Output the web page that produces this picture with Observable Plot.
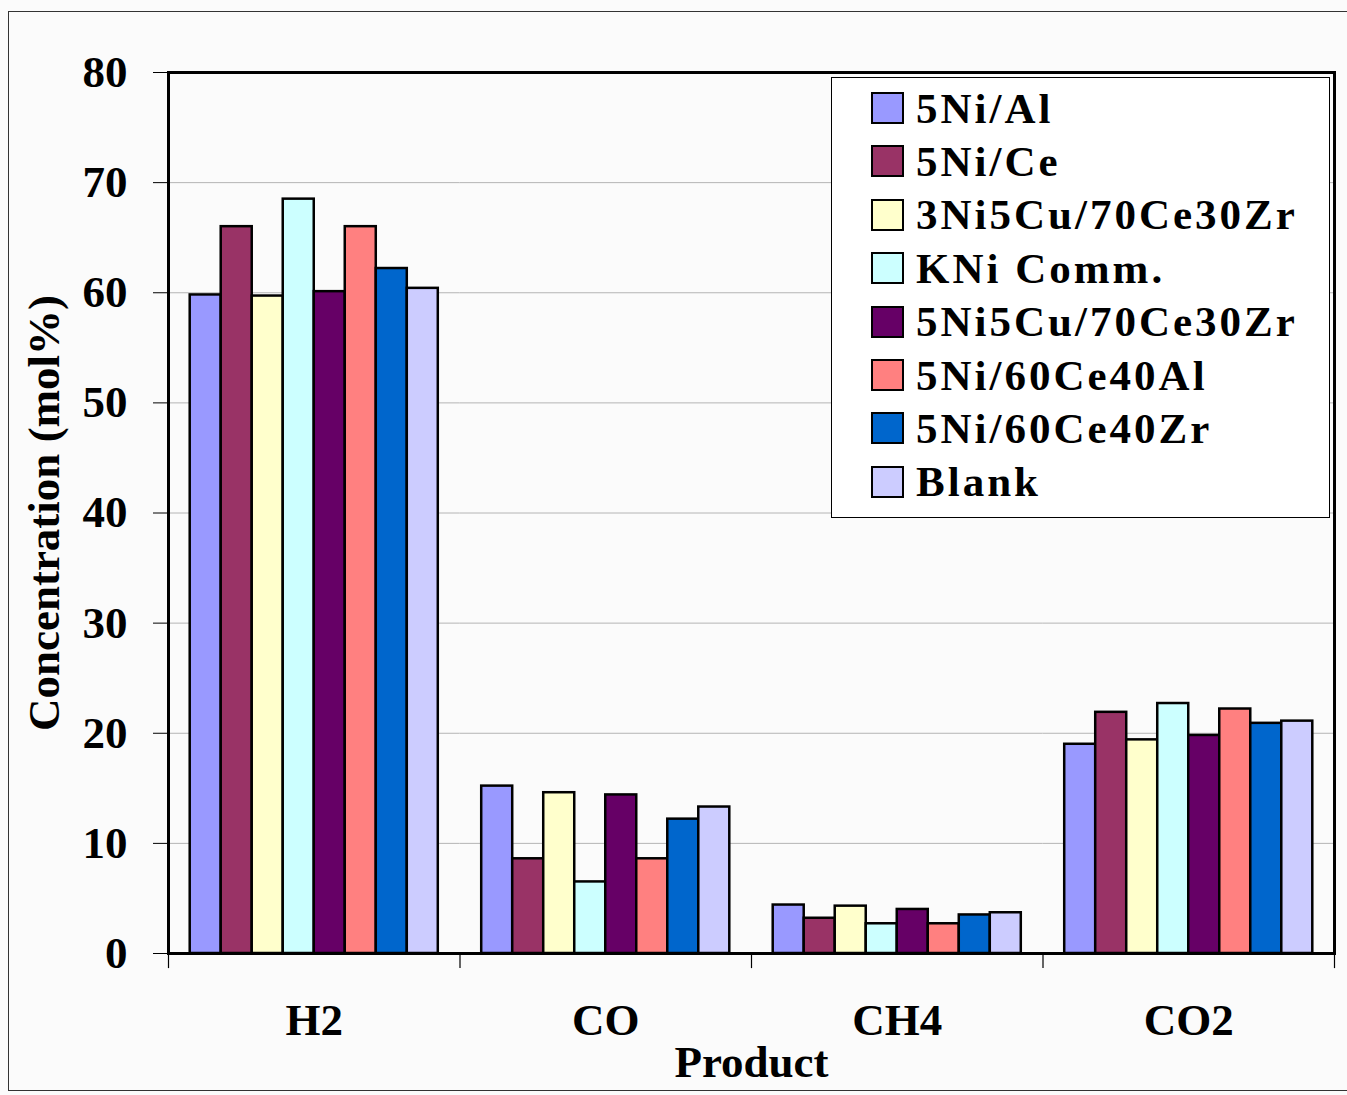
<!DOCTYPE html>
<html>
<head>
<meta charset="utf-8">
<script src="https://cdn.jsdelivr.net/npm/d3@7"></script>
<script src="https://cdn.jsdelivr.net/npm/@observablehq/plot@0.6"></script>
<style>
  html, body { margin: 0; padding: 0; background: #fbfbfb; }
  #wrap { position: relative; width: 1347px; height: 1095px; overflow: hidden; }
  #outer { position: absolute; left: 8px; top: 11px; width: 1400px; height: 1080px; border: 1.5px solid #333; box-sizing: border-box; }
  #chart { position: absolute; left: 0; top: 0; }
  #legend {
    position: absolute; left: 831px; top: 77px; width: 499px; height: 441px;
    background: #fff; border: 1.5px solid #000; box-sizing: border-box;
    font-family: "Liberation Serif", "Times New Roman", serif; font-weight: bold;
    font-size: 43px; letter-spacing: 3px; color: #000;
  }
  .item { position: absolute; left: 39px; height: 32px; display: flex; align-items: center; white-space: nowrap; }
  .sw { width: 29px; height: 28px; border: 2px solid #000; margin-right: 12px; flex: none; }
</style>
</head>
<body>
<div id="wrap">
  <div id="outer"></div>
  <div id="chart"></div>
  <div id="legend"></div>
</div>
<script>
const products = ["H2", "CO", "CH4", "CO2"];
const catalysts = ["5Ni/Al", "5Ni/Ce", "3Ni5Cu/70Ce30Zr", "KNi Comm.", "5Ni5Cu/70Ce30Zr", "5Ni/60Ce40Al", "5Ni/60Ce40Zr", "Blank"];
const colors = ["#9999FF", "#993366", "#FFFFCC", "#CCFFFF", "#660066", "#FF8080", "#0066CC", "#CCCCFF"];
const h2Values  = [59.8, 66.0, 59.7, 68.5, 60.1, 66.0, 62.2, 60.4];
const coValues  = [15.2, 8.6, 14.6, 6.5, 14.4, 8.6, 12.2, 13.3];
const ch4Values = [4.4, 3.2, 4.3, 2.7, 4.0, 2.7, 3.5, 3.7];
const co2Values = [19.0, 21.9, 19.4, 22.7, 19.8, 22.2, 20.9, 21.1];
const yTicks = [0, 10, 20, 30, 40, 50, 60, 70, 80];
const gridTicks = [10, 20, 30, 40, 50, 60, 70];

const series = [h2Values, coValues, ch4Values, co2Values];
const data = [];
products.forEach((p, i) => catalysts.forEach((c, j) => data.push({product: p, catalyst: c, value: series[i][j]})));

const font = '"Liberation Serif", "Times New Roman", serif';

const chart = Plot.plot({
  width: 1347,
  height: 1095,
  marginLeft: 168,
  marginRight: 13,
  marginTop: 72,
  marginBottom: 142,
  style: {fontFamily: font, fontWeight: "bold", fontSize: "44px", background: "transparent", color: "#000", overflow: "visible"},
  fx: {domain: products, padding: 0, round: false},
  x: {domain: catalysts, paddingInner: 0, paddingOuter: 0.7, round: false, axis: null},
  y: {domain: [0, 80]},
  color: {domain: catalysts, range: colors},
  marks: [
    Plot.ruleY(gridTicks, {stroke: "#b4b4b4", strokeWidth: 1}),
    Plot.barY(data, {fx: "product", x: "catalyst", y: "value", fill: "catalyst", stroke: "#000", strokeWidth: 2.5}),
    Plot.frame({anchor: "top", stroke: "#000", strokeWidth: 3}),
    Plot.frame({anchor: "bottom", stroke: "#000", strokeWidth: 3}),
    Plot.frame({anchor: "left", stroke: "#000", strokeWidth: 3, facetAnchor: "left"}),
    Plot.frame({anchor: "right", stroke: "#000", strokeWidth: 3, facetAnchor: "right"}),
    Plot.frame({anchor: "left", stroke: "#000", strokeWidth: 1.2, insetTop: 881, insetBottom: -14}),
    Plot.frame({anchor: "right", stroke: "#000", strokeWidth: 1.2, insetTop: 881, insetBottom: -14, facetAnchor: "right"}),
    Plot.axisY({ticks: yTicks, tickSize: 15, tickPadding: 26, tickFormat: d => String(d), fontSize: 45,
      label: "Concentration (mol%)", labelAnchor: "center", labelOffset: 141, labelArrow: "none"}),
    Plot.axisFx({anchor: "bottom", tickSize: 0, tickPadding: 50, fontSize: 45,
      label: "Product", labelAnchor: "center", labelOffset: 123, labelArrow: "none"})
  ]
});
document.getElementById("chart").appendChild(chart);

const legend = document.getElementById("legend");
catalysts.forEach((c, i) => {
  const item = document.createElement("div");
  item.className = "item";
  item.style.top = (14 + i * 53.4) + "px";
  const sw = document.createElement("div");
  sw.className = "sw";
  sw.style.background = colors[i];
  const t = document.createElement("span");
  t.textContent = c;
  item.appendChild(sw);
  item.appendChild(t);
  legend.appendChild(item);
});
</script>
</body>
</html>
